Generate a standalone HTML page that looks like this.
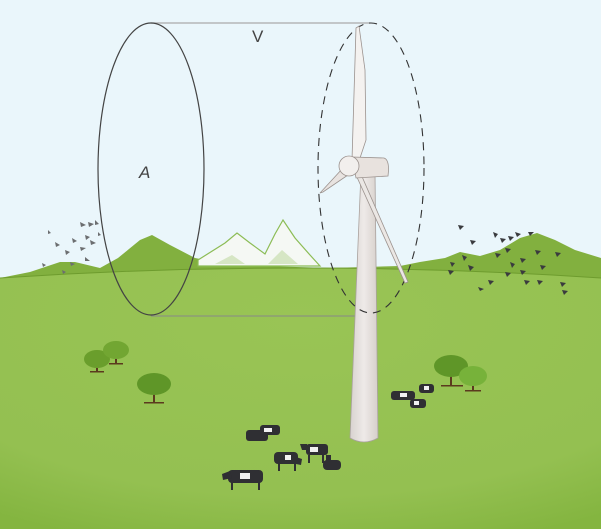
<!DOCTYPE html>
<html><head><style>html,body{margin:0;padding:0;background:#eaf6fb}svg{display:block}</style></head>
<body>
<svg width="601" height="529" viewBox="0 0 601 529" xmlns="http://www.w3.org/2000/svg">
<defs>
<radialGradient id="g" cx="0.5" cy="0.2" r="0.9">
<stop offset="0" stop-color="#99c455"/><stop offset="0.75" stop-color="#94c051"/><stop offset="1" stop-color="#84b540"/>
</radialGradient>
<linearGradient id="tw" x1="0" x2="1"><stop offset="0" stop-color="#d8d2cf"/><stop offset="0.5" stop-color="#eeeae8"/><stop offset="1" stop-color="#d6cfcb"/></linearGradient>
</defs>
<rect width="601" height="529" fill="#eaf6fb"/>
<path d="M0 278 L30 272 L60 262 L75 262 L100 268 L118 258 L140 240 L152 235 L170 245 L195 258 L230 265 L330 268 L400 266 L420 262 L445 258 L460 252 L480 256 L500 250 L520 238 L537 233 L555 240 L575 250 L601 258 L601 300 L0 300 Z" fill="#82b03f"/>
<path d="M198 260 L225 243 L237 233 L250 243 L265 254 L275 234 L283 220 L295 238 L310 255 L320 266 L198 266 Z" fill="#f5f8f4" stroke="#8cbc55" stroke-width="1.2"/>
<path d="M215 264 L232 255 L245 264 Z M268 264 L282 250 L298 264 Z" fill="#b8d494" opacity="0.5"/>
<path d="M0 278 Q300 258 601 278 L601 529 L0 529 Z" fill="url(#g)"/>
<path d="M0 278 Q300 258 601 278" fill="none" stroke="#6e9c2e" stroke-width="1"/>
<line x1="151" y1="23" x2="370" y2="23" stroke="#aaa" stroke-width="1.3"/>
<line x1="151" y1="316" x2="375" y2="316" stroke="#888" stroke-width="1"/>
<ellipse cx="151" cy="169" rx="53" ry="146" fill="none" stroke="#444" stroke-width="1.2"/>
<text x="139" y="178" font-family="Liberation Sans, sans-serif" font-size="17" font-style="italic" fill="#444">A</text>
<text x="252" y="42" font-family="Liberation Sans, sans-serif" font-size="17" fill="#444">V</text>
<path d="M361 172 L375 172 L378 438 Q364 446 350 438 Z" fill="url(#tw)" stroke="#a9a19d" stroke-width="0.8"/>
<ellipse cx="371" cy="168" rx="53" ry="145" fill="none" stroke="#333" stroke-width="1.1" stroke-dasharray="8,6"/>
<path d="M352 160 L356 28 L359 26 L365 70 L366 140 L360 158 Z" fill="#f4f2f0" stroke="#9b928e" stroke-width="0.8"/>
<path d="M343 168 L320 193 L323 192 L348 175 Z" fill="#e8e3e0" stroke="#9b928e" stroke-width="0.8"/>
<path d="M356 175 L360 172 L408 282 L405 283 Z" fill="#ebe7e4" stroke="#9b928e" stroke-width="0.8"/>
<path d="M352 157 L384 158 Q390 160 388 176 L356 178 Z" fill="#e8e2de" stroke="#9b928e" stroke-width="0.8"/>
<circle cx="349" cy="166" r="10" fill="#f2efed" stroke="#9b928e" stroke-width="0.8"/>
<g fill="#6c6e70">
<path d="M42 263 l4 2 -3 2z M55 242 l5 3 -4 2z M65 250 l5 2 -4 3z M72 238 l5 3 -4 2z M80 222 l6 3 -5 2z M88 222 l6 2 -5 3z M95 220 l4 4 -4 1z M85 235 l5 2 -4 3z M90 240 l6 3 -5 2z M70 262 l5 2 -4 2z M62 270 l4 2 -3 2z M48 230 l3 3 -3 1z M80 247 l6 1 -5 3z M98 232 l3 3 -3 1z M85 257 l5 4 -5 0z"/>
</g>
<g fill="#3a3b3e">
<path d="M458 225 l6 1 -4 4z M470 240 l6 1 -4 4z M493 232 l5 2 -3 4z M500 238 l6 1 -4 4z M508 236 l6 1 -4 4z M515 232 l6 2 -4 3z M528 232 l6 0 -4 4z M505 248 l6 1 -4 4z M495 253 l6 1 -4 4z M462 255 l5 2 -3 4z M450 262 l5 1 -3 4z M468 265 l6 2 -4 4z M448 270 l6 1 -4 4z M510 262 l5 2 -3 4z M520 258 l6 1 -4 4z M535 250 l6 1 -4 4z M555 252 l6 1 -4 4z M505 272 l6 1 -4 4z M520 270 l6 1 -4 4z M537 280 l6 1 -4 4z M524 280 l6 1 -4 4z M478 287 l6 2 -4 2z M488 280 l6 1 -4 4z M560 282 l6 1 -4 4z M562 290 l6 1 -4 4z M540 265 l6 1 -4 4z"/>
</g>
<g>
<rect x="96" y="360" width="2" height="12" fill="#5b3a1e"/><rect x="90" y="371" width="14" height="1.5" fill="#5b3a1e"/>
<ellipse cx="97" cy="359" rx="13" ry="9" fill="#6a9e2c"/>
<rect x="115" y="352" width="2" height="12" fill="#5b3a1e"/><rect x="109" y="363" width="14" height="1.5" fill="#5b3a1e"/>
<ellipse cx="116" cy="350" rx="13" ry="9" fill="#72a632"/>
<rect x="153" y="390" width="2" height="13" fill="#5b3a1e"/><rect x="144" y="402" width="20" height="1.5" fill="#5b3a1e"/>
<ellipse cx="154" cy="384" rx="17" ry="11" fill="#5f9628"/>
<rect x="450" y="372" width="2" height="13" fill="#5b3a1e"/><rect x="441" y="385" width="22" height="1.5" fill="#5b3a1e"/>
<ellipse cx="451" cy="366" rx="17" ry="11" fill="#5f9628"/>
<rect x="472" y="381" width="2" height="10" fill="#5b3a1e"/><rect x="465" y="390" width="16" height="1.5" fill="#5b3a1e"/>
<ellipse cx="473" cy="376" rx="14" ry="10" fill="#77b23a"/>
</g>
<g fill="#2f2f33">
<rect x="228" y="470" width="35" height="13" rx="4"/><path d="M222 474 l8 -3 2 7 -9 2z"/><rect x="231" y="482" width="2" height="8"/><rect x="258" y="482" width="2" height="8"/>
<rect x="274" y="452" width="24" height="12" rx="4"/><path d="M296 457 l6 2 -1 6 -5 -1z"/><rect x="278" y="463" width="2" height="8"/><rect x="294" y="463" width="2" height="8"/>
<rect x="306" y="444" width="22" height="11" rx="3"/><path d="M300 444 l7 0 0 6 -5 0z"/><rect x="308" y="455" width="2" height="8"/><rect x="322" y="455" width="2" height="8"/>
<rect x="323" y="460" width="18" height="10" rx="4"/><rect x="326" y="455" width="5" height="7"/>
<rect x="246" y="430" width="22" height="11" rx="3"/><rect x="260" y="425" width="20" height="10" rx="3"/>
<rect x="391" y="391" width="24" height="9" rx="3"/><rect x="410" y="399" width="16" height="9" rx="3"/><rect x="419" y="384" width="15" height="9" rx="3"/>
</g>
<g fill="#f1f1f1">
<rect x="240" y="473" width="10" height="6"/><rect x="285" y="455" width="6" height="5"/><rect x="310" y="447" width="8" height="5"/><rect x="264" y="428" width="8" height="4"/><rect x="400" y="393" width="7" height="4"/><rect x="424" y="386" width="5" height="4"/><rect x="414" y="401" width="5" height="4"/>
</g>
</svg>
</body></html>
